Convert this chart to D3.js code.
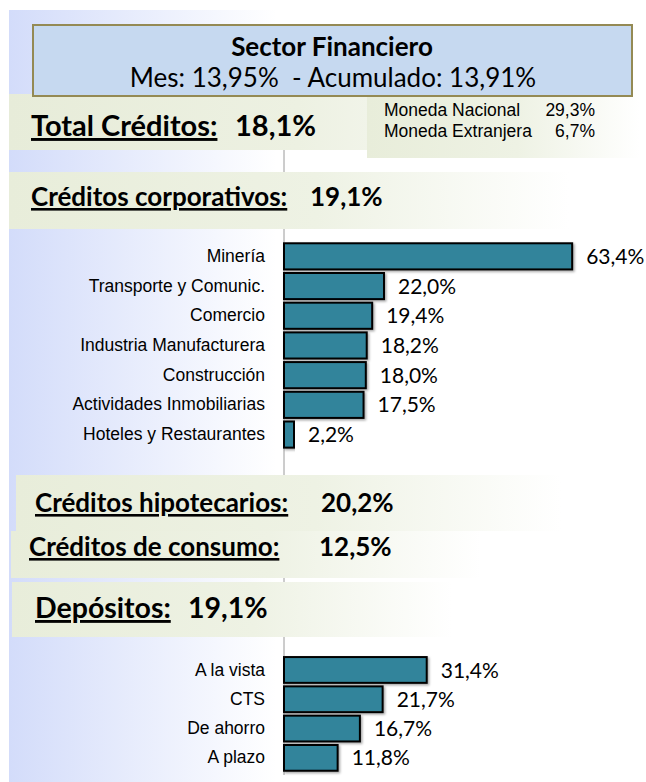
<!DOCTYPE html>
<html>
<head>
<meta charset="utf-8">
<script src="https://cdn.jsdelivr.net/npm/d3@7"></script>
<style>
  body { margin: 0; background: #fff; }
  .head { font-family: Lato, "Open Sans", sans-serif; font-weight: bold; fill: #000; }
  .narrow { font-family: "Liberation Sans", Arial, sans-serif; fill: #000; }
  .val { font-family: Lato, "Open Sans", sans-serif; fill: #000; }
</style>
</head>
<body>
<svg id="chart" width="646" height="782"></svg>
<script>
// data
var titleText = 'Sector Financiero';
var subText = 'Mes: 13,95%  - Acumulado: 13,91%';
var totalCred = 18.1;
var monedaCats = ['Moneda Nacional', 'Moneda Extranjera'];
var monedaVals = [29.3, 6.7];
var corpTotal = 19.1;
var corpCats = ['Minería', 'Transporte y Comunic.', 'Comercio', 'Industria Manufacturera',
	'Construcción', 'Actividades Inmobiliarias', 'Hoteles y Restaurantes'];
var corpVals = [63.4, 22.0, 19.4, 18.2, 18.0, 17.5, 2.2];
var hipoTotal = 20.2;
var consTotal = 12.5;
var depTotal = 19.1;
var depCats = ['A la vista', 'CTS', 'De ahorro', 'A plazo'];
var depVals = [31.4, 21.7, 16.7, 11.8];

var fmt = function(v) { return d3.format('.1f')(v).replace('.', ',') + '%'; };

var svg = d3.select('#chart');
var defs = svg.append('defs');

function grad(id, stops) {
	var g = defs.append('linearGradient').attr('id', id)
		.attr('x1', 0).attr('y1', 0).attr('x2', 1).attr('y2', 0);
	stops.forEach(function(s) {
		g.append('stop').attr('offset', s[0]).attr('stop-color', s[1]);
	});
}
grad('blueFade', [[0, '#d3dcfa'], [0.42, '#ffffff'], [1, '#ffffff']]);
grad('greenSolid', [[0, '#e7ecd9'], [0.8, '#edf1e2'], [1, '#f1f4e9']]);
grad('greenFade', [[0, '#e8edda'], [0.55, '#eef2e4'], [1, '#ffffff']]);

// drop shadow for the bars
var sh = defs.append('filter').attr('id', 'shadow').attr('x', '-5%').attr('y', '-20%')
	.attr('width', '115%').attr('height', '150%');
sh.append('feDropShadow').attr('dx', 1.5).attr('dy', 1.5).attr('stdDeviation', 1)
	.attr('flood-color', '#000').attr('flood-opacity', 0.35);

// background panel
svg.append('rect').attr('x', 9).attr('y', 10).attr('width', 637).attr('height', 772)
	.attr('fill', 'url(#blueFade)');

var x = d3.scaleLinear().domain([0, 70]).range([284, 284 + 70 * 4.545]);

// vertical axis line behind the bands
svg.append('line').attr('x1', x(0)).attr('x2', x(0)).attr('y1', 150).attr('y2', 775)
	.attr('stroke', '#9a9a9a').attr('stroke-width', 1);

// bands
var bands = [
	{x: 9, y: 94, w: 361, h: 56, f: 'url(#greenSolid)'},
	{x: 367, y: 88, w: 273, h: 70, f: 'url(#greenFade)'},
	{x: 9, y: 172, w: 560, h: 57, f: 'url(#greenFade)'},
	{x: 16, y: 475, w: 545, h: 56, f: 'url(#greenFade)'},
	{x: 11, y: 531, w: 470, h: 47, f: 'url(#greenFade)'},
	{x: 12, y: 582, w: 440, h: 55, f: 'url(#greenFade)'}
];
svg.selectAll('.band').data(bands).enter().append('rect')
	.attr('class', 'band')
	.attr('x', function(d) { return d.x; })
	.attr('y', function(d) { return d.y; })
	.attr('width', function(d) { return d.w; })
	.attr('height', function(d) { return d.h; })
	.attr('fill', function(d) { return d.f; });

// title box
svg.append('rect').attr('x', 33).attr('y', 25).attr('width', 599).attr('height', 71)
	.attr('fill', '#c6d9f0').attr('stroke', '#948a54').attr('stroke-width', 2);
svg.append('text').attr('class', 'head').attr('x', 332).attr('y', 56)
	.attr('text-anchor', 'middle').attr('font-size', 26).text(titleText);
svg.append('text').attr('class', 'val').attr('x', 333).attr('y', 87)
	.attr('text-anchor', 'middle').attr('font-size', 26).style('white-space', 'pre').text(subText);

function heading(xp, yp, size, label, val, valX) {
	var t = svg.append('text').attr('class', 'head').attr('x', xp).attr('y', yp).attr('font-size', size);
	t.append('tspan').style('text-decoration', 'underline').text(label);
	svg.append('text').attr('class', 'head').attr('x', valX).attr('y', yp).attr('font-size', size).text(fmt(val));
}
heading(31, 136, 29, 'Total Créditos:', totalCred, 235);
heading(31, 206, 26, 'Créditos corporativos:', corpTotal, 310);
heading(35, 512, 26, 'Créditos hipotecarios:', hipoTotal, 321);
heading(29, 556, 26, 'Créditos de consumo:', consTotal, 319);
heading(35, 618, 28.5, 'Depósitos:', depTotal, 188);

// moneda lines
var ym = d3.scalePoint().domain(monedaCats).range([116, 137]);
svg.selectAll('.mlab').data(monedaCats).enter().append('text')
	.attr('class', 'narrow').attr('font-size', 17.5)
	.attr('x', 384).attr('y', function(d) { return ym(d); }).text(function(d) { return d; });
svg.selectAll('.mval').data(monedaVals).enter().append('text')
	.attr('class', 'narrow').attr('font-size', 17.5).attr('text-anchor', 'end')
	.attr('x', 595).attr('y', function(d, i) { return ym(monedaCats[i]); }).text(fmt);

function barChart(cats, vals, y0, step) {
	var y = d3.scaleBand().domain(cats).range([y0, y0 + cats.length * step])
		.paddingInner(0.12).paddingOuter(0.06);
	var g = svg.append('g');
	var ax = g.append('g').attr('transform', 'translate(' + x(0) + ',0)')
		.call(d3.axisLeft(y).tickSize(0).tickPadding(19));
	ax.select('.domain').remove();
	ax.attr('font-family', null).attr('font-size', null);
	ax.selectAll('text').attr('class', 'narrow').attr('font-size', 17.5).attr('fill', '#000');
	g.selectAll('.bar').data(vals).enter().append('rect')
		.attr('class', 'bar')
		.attr('x', x(0))
		.attr('y', function(d, i) { return y(cats[i]); })
		.attr('width', function(d) { return x(d) - x(0); })
		.attr('height', y.bandwidth())
		.attr('fill', '#31849b').attr('stroke', '#000').attr('stroke-width', 2)
		.attr('filter', 'url(#shadow)');
	g.selectAll('.lbl').data(vals).enter().append('text')
		.attr('class', 'val').attr('font-size', 21)
		.attr('x', function(d) { return x(d) + 14; })
		.attr('y', function(d, i) { return y(cats[i]) + y.bandwidth() / 2; })
		.attr('dy', '0.36em').text(fmt);
}
barChart(corpCats, corpVals, 241.5, 29.7);
barChart(depCats, depVals, 655.3, 29.3);
</script>
</body>
</html>
